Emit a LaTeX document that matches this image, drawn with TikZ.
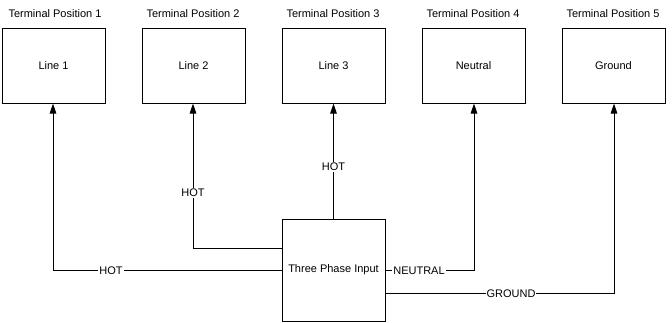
\documentclass[tikz,border=0pt]{standalone}
\usepackage{fontspec}
\setmainfont{Liberation Sans}
\usetikzlibrary{arrows.meta}
\begin{document}
\begin{tikzpicture}[x=1pt,y=-1pt,
  font=\fontsize{11}{13}\selectfont,
  termbox/.style={draw,line width=1pt,minimum width=103pt,minimum height=75pt,inner sep=0pt},
  title/.style={inner sep=0pt},
  wire/.style={line width=1pt,-{Triangle[length=10pt,width=6.5pt]}},
  lbl/.style={fill=white,inner sep=1pt}]
\useasboundingbox (0,0) rectangle (672,322);
\node[termbox] (b1) at (53.5,65.5) {Line 1};
\node[termbox] (b2) at (193.5,65.5) {Line 2};
\node[termbox] (b3) at (333.5,65.5) {Line 3};
\node[termbox] (b4) at (473.5,65.5) {Neutral};
\node[termbox] (b5) at (613.5,65.5) {Ground};
\node[title] (t1) at (55,14) {Terminal Position 1};
\node[title] (t2) at (193,14) {Terminal Position 2};
\node[title] (t3) at (333,14) {Terminal Position 3};
\node[title] (t4) at (473,14) {Terminal Position 4};
\node[title] (t5) at (613,14) {Terminal Position 5};
\node[draw,line width=1pt,minimum width=103pt,minimum height=102pt,inner sep=0pt] (tpi) at (333.5,270) {Three Phase Input};
\coordinate (c1) at (53,270.5);
\coordinate (c2) at (193,248.5);
\coordinate (c4) at (474,270.5);
\coordinate (c5) at (614,293.5);
\draw[wire] (tpi.west |- c1) -- (c1) -- (b1.south -| c1);
\draw[wire] (tpi.west |- c2) -- (c2) -- (b2.south -| c2);
\draw[wire] (tpi.north) -- (b3.south);
\draw[wire] (tpi.east |- c4) -- (c4) -- (b4.south -| c4);
\draw[wire] (tpi.east |- c5) -- (c5) -- (b5.south -| c5);
\node[lbl] (h1) at (111,270.5) {HOT};
\node[lbl] (h2) at (193,193) {HOT};
\node[lbl] (h3) at (333.5,167) {HOT};
\node[lbl] (n4) at (419,270.5) {NEUTRAL};
\node[lbl] (g5) at (511,293.5) {GROUND};
\end{tikzpicture}
\end{document}
